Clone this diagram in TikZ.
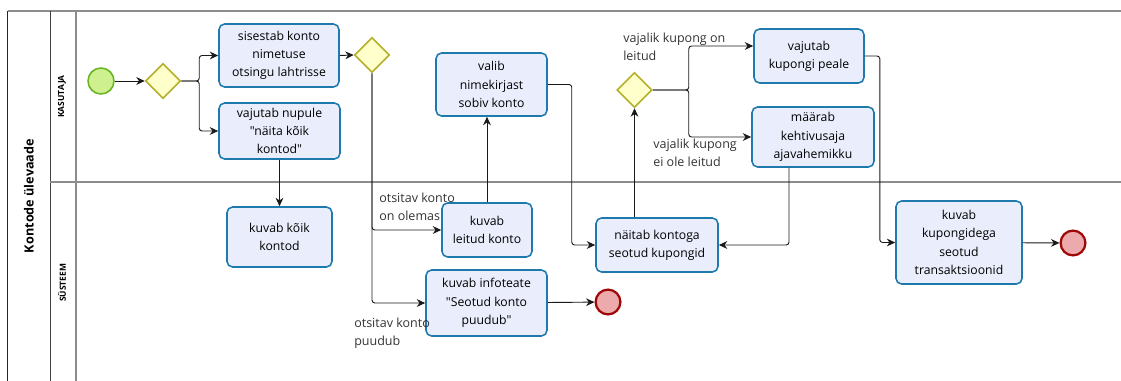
\documentclass[tikz,border=0pt]{standalone}
\usepackage{fontspec}
\setmainfont{Open Sans}[Ligatures=TeXOff]
\usetikzlibrary{shapes.geometric,arrows.meta,calc}
\definecolor{taskline}{RGB}{30,122,172}
\definecolor{taskfill}{RGB}{234,238,252}
\definecolor{gatefill}{RGB}{255,255,204}
\definecolor{gateline}{RGB}{181,176,42}
\definecolor{startfill}{RGB}{206,240,142}
\definecolor{startline}{RGB}{104,180,36}
\definecolor{endfill}{RGB}{236,170,172}
\definecolor{endline}{RGB}{160,8,8}
\definecolor{laneline}{RGB}{140,140,140}
\begin{document}
\begin{tikzpicture}[x=0.025cm,y=-0.025cm,
    task/.style={draw=taskline,fill=taskfill,line width=1.1pt,rounded corners=4pt,
      align=center,inner sep=1pt,font=\fontsize{8.7}{13}\selectfont},
    gate/.style={diamond,draw=gateline,fill=gatefill,line width=1.1pt,
      minimum width=0.875cm,minimum height=0.875cm,inner sep=0pt},
    startev/.style={circle,draw=startline,fill=startfill,line width=1.1pt,
      minimum size=0.65cm,inner sep=0pt},
    endev/.style={circle,draw=endline,fill=endfill,line width=1.6pt,
      minimum size=0.62cm,inner sep=0pt},
    flow/.style={draw=black!90,line width=0.65pt,rounded corners=2pt,
      -{Stealth[length=6pt,width=5.5pt]}},
    note/.style={align=left,anchor=west,text=black!80,inner sep=0pt,
      font=\fontsize{8.9}{13}\selectfont},
    lanename/.style={rotate=90,font=\fontsize{6}{7}\selectfont\bfseries}]
    \useasboundingbox (0,0) rectangle (1121,381);
    % pool and lanes
    \draw[black!85,line width=0.8pt] (7.5,381) -- (7.5,11);
    \draw[laneline,line width=1pt] (7.5,11) -- (1121,11);
    \draw[black!75,line width=0.6pt] (50,11) -- (50,381);
    \draw[laneline,line width=1pt] (76,11) -- (76,381);
    \draw[laneline,line width=1pt] (50,182) -- (1121,182);
    \node[rotate=90,font=\fontsize{9}{11}\selectfont\bfseries] (pool) at (29,196) {Kontode ülevaade};
    \node[lanename] (kasutaja) at (62,96.5) {KASUTAJA};
    \node[lanename] (systeem) at (62,283) {SÜSTEEM};
    % kasutaja
    \node[startev] (start) at (101,81) {};
    \node[gate] (g1) at (163,81) {};
    \node[task,minimum width=3cm,minimum height=1.575cm] (t1) at (279,55.5)
      {sisestab konto\\nimetuse\\otsingu lahtrisse};
    \node[task,minimum width=3.025cm,minimum height=1.4cm] (t2) at (279.5,131)
      {vajutab nupule\\"näita kõik\\kontod"};
    \node[gate] (g2) at (372,55) {};
    \node[task,minimum width=2.775cm,minimum height=1.575cm] (valib) at (491.5,84.5)
      {valib\\nimekirjast\\sobiv konto};
    \node[gate] (g3) at (634.5,90) {};
    \node[task,minimum width=2.75cm,minimum height=1.35cm] (kupong) at (809,56)
      {vajutab\\kupongi peale};
    \node[task,minimum width=3.05cm,minimum height=1.5cm] (maarab) at (813,137)
      {määrab\\kehtivusaja\\ajavahemikku};
    % systeem
    \node[task,minimum width=2.625cm,minimum height=1.5cm] (koik) at (279.5,237)
      {kuvab kõik\\kontod};
    \node[task,minimum width=2.25cm,minimum height=1.35cm] (leitud) at (487,230)
      {kuvab\\leitud konto};
    \node[task,minimum width=3.025cm,minimum height=1.65cm] (info) at (486.5,303)
      {kuvab infoteate\\"Seotud konto\\puudub"};
    \node[endev] (end1) at (608,302) {};
    \node[task,minimum width=3.05cm,minimum height=1.35cm] (naitab) at (657,245)
      {näitab kontoga\\seotud kupongid};
    \node[task,minimum width=3.15cm,minimum height=2.075cm] (tehing) at (959,242.5)
      {kuvab\\kupongidega\\seotud\\transaktsioonid};
    \node[endev] (end2) at (1073,243) {};
    % conditions
    \node[note] (olemas) at (379,206.5) {otsitav konto\\on olemas};
    \node[note] (puudub) at (354,333.5) {otsitav konto\\puudub};
    \node[note] (onleitud) at (623,46.5) {vajalik kupong on\\leitud};
    \node[note] (eileitud) at (653,153) {vajalik kupong\\ei ole leitud};
    % flows
    \draw[flow] (start) -- (g1);
    \draw[flow] (g1.east) -| ($(t1.west)+(-19,0)$) -- (t1.west);
    \draw[flow] (g1.east) -| ($(t2.west)+(-19,0)$) -- (t2.west);
    \draw[flow] (t1.east) -- (g2.west);
    \draw[flow] (t2) -- (koik);
    \draw[flow] (g2.south) |- (leitud.west);
    \draw[flow] (g2.south) |- (info.west);
    \draw[flow] (info) -- (end1);
    \draw[flow] (leitud.north) -- (leitud.north |- valib.south);
    \draw[flow] (valib.east) -- ++(24,0) |- (naitab.west);
    \draw[flow] (g3.south |- naitab.north) -- (g3.south);
    \draw[flow] (g3.east) -- ++(36,0) |- ($(kupong.west)+(0,-10)$);
    \draw[flow] (g3.east) -- ++(36,0) |- (maarab.west);
    \draw[flow] ($(maarab.south)+(-24,0)$) |- (naitab.east);
    \draw[flow] (kupong.east) -- ++(15,0) |- (tehing.west);
    \draw[flow] (tehing) -- (end2);
\end{tikzpicture}
\end{document}
